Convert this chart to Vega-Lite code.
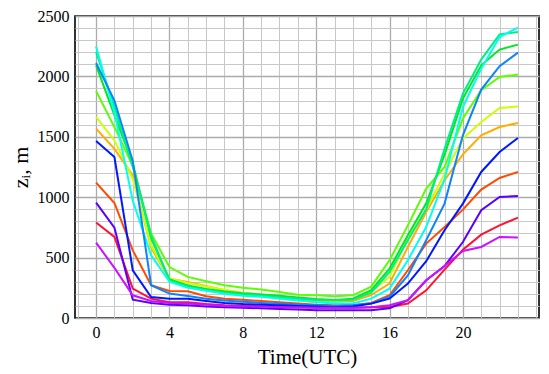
{
  "$schema": "https://vega.github.io/schema/vega-lite/v6.json",
  "width": 464,
  "height": 302,
  "autosize": {"type": "none"},
  "padding": {"left": 75, "top": 16, "right": 10, "bottom": 56},
  "background": "white",
  "config": {
    "view": {"stroke": "#000000", "strokeWidth": 1.6}
  },
  "data": {"values": [
{"t":0,"s":"red","z":790},{"t":1,"s":"red","z":671},{"t":2,"s":"red","z":243},{"t":3,"s":"red","z":160},{"t":4,"s":"red","z":130},{"t":5,"s":"red","z":130},{"t":6,"s":"red","z":115},{"t":7,"s":"red","z":105},{"t":8,"s":"red","z":100},{"t":9,"s":"red","z":100},{"t":10,"s":"red","z":95},{"t":11,"s":"red","z":90},{"t":12,"s":"red","z":85},{"t":13,"s":"red","z":85},{"t":14,"s":"red","z":85},{"t":15,"s":"red","z":90},{"t":16,"s":"red","z":91},{"t":17,"s":"red","z":120},{"t":18,"s":"red","z":229},{"t":19,"s":"red","z":400},{"t":20,"s":"red","z":566},{"t":21,"s":"red","z":690},{"t":22,"s":"red","z":767},{"t":23,"s":"red","z":831},
{"t":0,"s":"ored","z":1121},{"t":1,"s":"ored","z":952},{"t":2,"s":"ored","z":560},{"t":3,"s":"ored","z":271},{"t":4,"s":"ored","z":224},{"t":5,"s":"ored","z":221},{"t":6,"s":"ored","z":180},{"t":7,"s":"ored","z":160},{"t":8,"s":"ored","z":152},{"t":9,"s":"ored","z":140},{"t":10,"s":"ored","z":130},{"t":11,"s":"ored","z":120},{"t":12,"s":"ored","z":110},{"t":13,"s":"ored","z":105},{"t":14,"s":"ored","z":105},{"t":15,"s":"ored","z":125},{"t":16,"s":"ored","z":188},{"t":17,"s":"ored","z":395},{"t":18,"s":"ored","z":616},{"t":19,"s":"ored","z":753},{"t":20,"s":"ored","z":897},{"t":21,"s":"ored","z":1063},{"t":22,"s":"ored","z":1159},{"t":23,"s":"ored","z":1209},
{"t":0,"s":"orange","z":1568},{"t":1,"s":"orange","z":1400},{"t":2,"s":"orange","z":1180},{"t":3,"s":"orange","z":580},{"t":4,"s":"orange","z":326},{"t":5,"s":"orange","z":298},{"t":6,"s":"orange","z":265},{"t":7,"s":"orange","z":230},{"t":8,"s":"orange","z":205},{"t":9,"s":"orange","z":190},{"t":10,"s":"orange","z":175},{"t":11,"s":"orange","z":160},{"t":12,"s":"orange","z":145},{"t":13,"s":"orange","z":135},{"t":14,"s":"orange","z":140},{"t":15,"s":"orange","z":190},{"t":16,"s":"orange","z":285},{"t":17,"s":"orange","z":588},{"t":18,"s":"orange","z":877},{"t":19,"s":"orange","z":1140},{"t":20,"s":"orange","z":1355},{"t":21,"s":"orange","z":1512},{"t":22,"s":"orange","z":1581},{"t":23,"s":"orange","z":1615},
{"t":0,"s":"yellow","z":1664},{"t":1,"s":"yellow","z":1470},{"t":2,"s":"yellow","z":1150},{"t":3,"s":"yellow","z":600},{"t":4,"s":"yellow","z":330},{"t":5,"s":"yellow","z":290},{"t":6,"s":"yellow","z":260},{"t":7,"s":"yellow","z":235},{"t":8,"s":"yellow","z":210},{"t":9,"s":"yellow","z":195},{"t":10,"s":"yellow","z":180},{"t":11,"s":"yellow","z":165},{"t":12,"s":"yellow","z":150},{"t":13,"s":"yellow","z":140},{"t":14,"s":"yellow","z":150},{"t":15,"s":"yellow","z":220},{"t":16,"s":"yellow","z":340},{"t":17,"s":"yellow","z":663},{"t":18,"s":"yellow","z":900},{"t":19,"s":"yellow","z":1195},{"t":20,"s":"yellow","z":1485},{"t":21,"s":"yellow","z":1623},{"t":22,"s":"yellow","z":1739},{"t":23,"s":"yellow","z":1750},
{"t":0,"s":"lime","z":1879},{"t":1,"s":"lime","z":1580},{"t":2,"s":"lime","z":1260},{"t":3,"s":"lime","z":700},{"t":4,"s":"lime","z":422},{"t":5,"s":"lime","z":340},{"t":6,"s":"lime","z":304},{"t":7,"s":"lime","z":271},{"t":8,"s":"lime","z":251},{"t":9,"s":"lime","z":235},{"t":10,"s":"lime","z":215},{"t":11,"s":"lime","z":193},{"t":12,"s":"lime","z":188},{"t":13,"s":"lime","z":180},{"t":14,"s":"lime","z":188},{"t":15,"s":"lime","z":260},{"t":16,"s":"lime","z":478},{"t":17,"s":"lime","z":767},{"t":18,"s":"lime","z":1071},{"t":19,"s":"lime","z":1250},{"t":20,"s":"lime","z":1651},{"t":21,"s":"lime","z":1885},{"t":22,"s":"lime","z":1995},{"t":23,"s":"lime","z":2015},
{"t":0,"s":"green","z":2092},{"t":1,"s":"green","z":1680},{"t":2,"s":"green","z":1280},{"t":3,"s":"green","z":660},{"t":4,"s":"green","z":320},{"t":5,"s":"green","z":270},{"t":6,"s":"green","z":240},{"t":7,"s":"green","z":220},{"t":8,"s":"green","z":205},{"t":9,"s":"green","z":195},{"t":10,"s":"green","z":185},{"t":11,"s":"green","z":170},{"t":12,"s":"green","z":158},{"t":13,"s":"green","z":150},{"t":14,"s":"green","z":160},{"t":15,"s":"green","z":230},{"t":16,"s":"green","z":409},{"t":17,"s":"green","z":685},{"t":18,"s":"green","z":950},{"t":19,"s":"green","z":1350},{"t":20,"s":"green","z":1816},{"t":21,"s":"green","z":2092},{"t":22,"s":"green","z":2222},{"t":23,"s":"green","z":2263},
{"t":0,"s":"spring","z":2202},{"t":1,"s":"spring","z":1750},{"t":2,"s":"spring","z":1250},{"t":3,"s":"spring","z":680},{"t":4,"s":"spring","z":310},{"t":5,"s":"spring","z":260},{"t":6,"s":"spring","z":230},{"t":7,"s":"spring","z":210},{"t":8,"s":"spring","z":195},{"t":9,"s":"spring","z":185},{"t":10,"s":"spring","z":170},{"t":11,"s":"spring","z":160},{"t":12,"s":"spring","z":150},{"t":13,"s":"spring","z":145},{"t":14,"s":"spring","z":150},{"t":15,"s":"spring","z":210},{"t":16,"s":"spring","z":381},{"t":17,"s":"spring","z":643},{"t":18,"s":"spring","z":900},{"t":19,"s":"spring","z":1400},{"t":20,"s":"spring","z":1858},{"t":21,"s":"spring","z":2139},{"t":22,"s":"spring","z":2348},{"t":23,"s":"spring","z":2368},
{"t":0,"s":"cyan","z":2249},{"t":1,"s":"cyan","z":1700},{"t":2,"s":"cyan","z":970},{"t":3,"s":"cyan","z":520},{"t":4,"s":"cyan","z":300},{"t":5,"s":"cyan","z":250},{"t":6,"s":"cyan","z":225},{"t":7,"s":"cyan","z":200},{"t":8,"s":"cyan","z":185},{"t":9,"s":"cyan","z":175},{"t":10,"s":"cyan","z":160},{"t":11,"s":"cyan","z":145},{"t":12,"s":"cyan","z":130},{"t":13,"s":"cyan","z":120},{"t":14,"s":"cyan","z":120},{"t":15,"s":"cyan","z":160},{"t":16,"s":"cyan","z":243},{"t":17,"s":"cyan","z":478},{"t":18,"s":"cyan","z":753},{"t":19,"s":"cyan","z":1150},{"t":20,"s":"cyan","z":1747},{"t":21,"s":"cyan","z":2064},{"t":22,"s":"cyan","z":2326},{"t":23,"s":"cyan","z":2404},
{"t":0,"s":"dodger","z":2111},{"t":1,"s":"dodger","z":1800},{"t":2,"s":"dodger","z":1300},{"t":3,"s":"dodger","z":271},{"t":4,"s":"dodger","z":202},{"t":5,"s":"dodger","z":182},{"t":6,"s":"dodger","z":160},{"t":7,"s":"dodger","z":145},{"t":8,"s":"dodger","z":135},{"t":9,"s":"dodger","z":125},{"t":10,"s":"dodger","z":118},{"t":11,"s":"dodger","z":110},{"t":12,"s":"dodger","z":105},{"t":13,"s":"dodger","z":100},{"t":14,"s":"dodger","z":105},{"t":15,"s":"dodger","z":120},{"t":16,"s":"dodger","z":174},{"t":17,"s":"dodger","z":353},{"t":18,"s":"dodger","z":643},{"t":19,"s":"dodger","z":947},{"t":20,"s":"dodger","z":1512},{"t":21,"s":"dodger","z":1891},{"t":22,"s":"dodger","z":2084},{"t":23,"s":"dodger","z":2197},
{"t":0,"s":"blue","z":1465},{"t":1,"s":"blue","z":1333},{"t":2,"s":"blue","z":395},{"t":3,"s":"blue","z":174},{"t":4,"s":"blue","z":160},{"t":5,"s":"blue","z":160},{"t":6,"s":"blue","z":141},{"t":7,"s":"blue","z":125},{"t":8,"s":"blue","z":115},{"t":9,"s":"blue","z":110},{"t":10,"s":"blue","z":105},{"t":11,"s":"blue","z":100},{"t":12,"s":"blue","z":95},{"t":13,"s":"blue","z":90},{"t":14,"s":"blue","z":95},{"t":15,"s":"blue","z":119},{"t":16,"s":"blue","z":160},{"t":17,"s":"blue","z":285},{"t":18,"s":"blue","z":470},{"t":19,"s":"blue","z":726},{"t":20,"s":"blue","z":947},{"t":21,"s":"blue","z":1209},{"t":22,"s":"blue","z":1374},{"t":23,"s":"blue","z":1490},
{"t":0,"s":"violet","z":955},{"t":1,"s":"violet","z":748},{"t":2,"s":"violet","z":152},{"t":3,"s":"violet","z":124},{"t":4,"s":"violet","z":110},{"t":5,"s":"violet","z":105},{"t":6,"s":"violet","z":95},{"t":7,"s":"violet","z":90},{"t":8,"s":"violet","z":85},{"t":9,"s":"violet","z":80},{"t":10,"s":"violet","z":75},{"t":11,"s":"violet","z":70},{"t":12,"s":"violet","z":65},{"t":13,"s":"violet","z":64},{"t":14,"s":"violet","z":64},{"t":15,"s":"violet","z":64},{"t":16,"s":"violet","z":80},{"t":17,"s":"violet","z":147},{"t":18,"s":"violet","z":312},{"t":19,"s":"violet","z":430},{"t":20,"s":"violet","z":629},{"t":21,"s":"violet","z":892},{"t":22,"s":"violet","z":1002},{"t":23,"s":"violet","z":1010},
{"t":0,"s":"magenta","z":624},{"t":1,"s":"magenta","z":415},{"t":2,"s":"magenta","z":188},{"t":3,"s":"magenta","z":141},{"t":4,"s":"magenta","z":125},{"t":5,"s":"magenta","z":120},{"t":6,"s":"magenta","z":110},{"t":7,"s":"magenta","z":100},{"t":8,"s":"magenta","z":95},{"t":9,"s":"magenta","z":95},{"t":10,"s":"magenta","z":90},{"t":11,"s":"magenta","z":88},{"t":12,"s":"magenta","z":85},{"t":13,"s":"magenta","z":85},{"t":14,"s":"magenta","z":85},{"t":15,"s":"magenta","z":90},{"t":16,"s":"magenta","z":105},{"t":17,"s":"magenta","z":147},{"t":18,"s":"magenta","z":312},{"t":19,"s":"magenta","z":430},{"t":20,"s":"magenta","z":555},{"t":21,"s":"magenta","z":588},{"t":22,"s":"magenta","z":671},{"t":23,"s":"magenta","z":666}
  ]},
  "layer": [
    {
      "mark": {"type": "line", "strokeOpacity": 0},
      "encoding": {
        "x": {"field": "t", "type": "quantitative", "scale": {"domain": [-1.15, 24.15], "nice": false, "zero": false},
          "axis": {"orient": "bottom", "values": [-1,1,2,3,5,6,7,9,10,11,13,14,15,17,18,19,21,22,23,24], "grid": true, "gridColor": "#c8c8c8", "gridOpacity": 1, "gridWidth": 1, "labels": false, "ticks": false, "domain": false, "title": null}},
        "y": {"field": "z", "type": "quantitative", "scale": {"domain": [0, 2500], "nice": false},
          "axis": {"orient": "left", "values": [100,200,300,400,600,700,800,900,1100,1200,1300,1400,1600,1700,1800,1900,2100,2200,2300,2400], "grid": true, "gridColor": "#c8c8c8", "gridOpacity": 1, "gridWidth": 1, "labels": false, "ticks": false, "domain": false, "title": null}},
        "detail": {"field": "s"}
      }
    },
    {
      "mark": {"type": "line", "strokeWidth": 2},
      "encoding": {
        "x": {"field": "t", "type": "quantitative",
          "axis": {"orient": "bottom", "values": [0,4,8,12,16,20], "format": "d", "grid": true, "gridColor": "#ababab", "gridOpacity": 1, "gridWidth": 1.3, "labelFont": "Liberation Serif", "labelColor": "#000000", "labelFontSize": 16, "labelPadding": 6, "ticks": false, "domain": false, "title": "Time(UTC)", "titleFont": "Liberation Serif", "titleFontWeight": "normal", "titleColor": "#000000", "titleFontSize": 21, "titlePadding": 6}},
        "y": {"field": "z", "type": "quantitative",
          "axis": {"orient": "left", "values": [0,500,1000,1500,2000,2500], "format": "d", "grid": true, "gridColor": "#ababab", "gridOpacity": 1, "gridWidth": 1.3, "labelFont": "Liberation Serif", "labelColor": "#000000", "labelFontSize": 16, "labelPadding": 6, "ticks": false, "domain": false, "title": "zᵢ, m", "titleFont": "Liberation Serif", "titleFontWeight": "normal", "titleColor": "#000000", "titleFontSize": 22, "titlePadding": 5}},
        "color": {"field": "s", "type": "nominal", "legend": null,
          "scale": {"domain": ["red","ored","orange","yellow","lime","green","spring","cyan","dodger","blue","violet","magenta"],
                    "range": ["#ff1133","#ff4a00","#ffad00","#ccff00","#5cff00","#00e81e","#00ee88","#00ffee","#0a84ff","#0018ff","#5a00ff","#cc11ff"]}}
      }
    }
  ],
  "resolve": {"axis": {"x": "independent", "y": "independent"}}
}
